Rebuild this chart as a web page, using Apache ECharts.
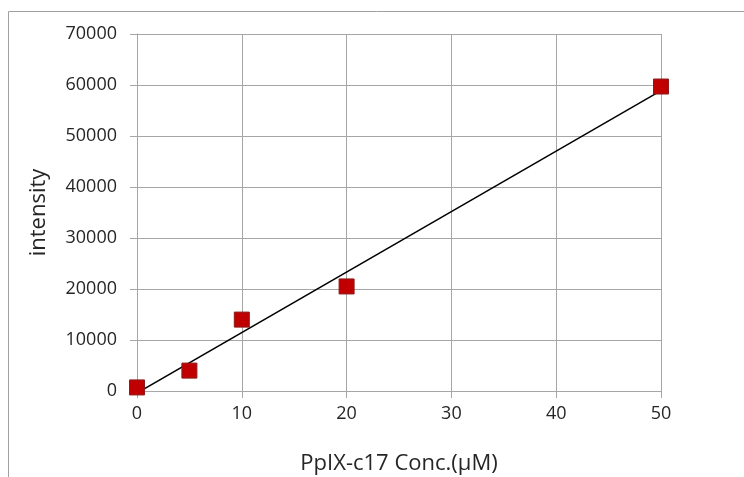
<!DOCTYPE html>
<html>
<head>
<meta charset="utf-8">
<script src="https://cdn.jsdelivr.net/npm/echarts@6/dist/echarts.min.js"></script>
<style>html,body{margin:0;padding:0;background:#fff;}#c{width:744px;height:477px;}</style>
</head>
<body>
<div id="c"></div>
<script>
const concentrations = [0, 5, 10, 20, 50];
const intensities = [700, 4000, 14000, 20500, 59700];
const trendX = [0, 50];
const trendY = [-400, 58900];
const xTicks = [0, 10, 20, 30, 40, 50];
const yTicks = [0, 10000, 20000, 30000, 40000, 50000, 60000, 70000];
const xTitle = 'PpIX-c17 Conc.(μM)';
const yTitle = 'intensity';

const points = concentrations.map((x, i) => [x, intensities[i]]);
const trend = trendX.map((x, i) => [x, trendY[i]]);
const font = '"Open Sans", "Liberation Sans", sans-serif';
const gridColor = '#a6a6a6';

const chart = echarts.init(document.getElementById('c'), null, {renderer: 'canvas'});
chart.setOption({
  animation: false,
  backgroundColor: '#fff',
  grid: {left: 137, right: 83, top: 34, bottom: 86, containLabel: false, outerBoundsMode: 'none'},
  graphic: [{
    type: 'rect', silent: true, z: -10,
    shape: {x: 8.5, y: 11.5, width: 800, height: 500},
    style: {fill: 'none', stroke: '#a0a0a0', lineWidth: 1}
  }],
  xAxis: {
    type: 'value', min: xTicks[0], max: xTicks[xTicks.length - 1], interval: 10,
    name: xTitle, nameLocation: 'middle', nameGap: 62,
    nameTextStyle: {fontFamily: font, fontSize: 22, color: '#262626'},
    axisLine: {show: true, lineStyle: {color: gridColor, width: 1}},
    axisTick: {show: true, length: 7, lineStyle: {color: gridColor}},
    axisLabel: {fontFamily: font, fontSize: 18, color: '#262626', margin: 14},
    splitLine: {show: true, lineStyle: {color: gridColor, width: 1}}
  },
  yAxis: {
    type: 'value', min: yTicks[0], max: yTicks[yTicks.length - 1], interval: 10000,
    name: yTitle, nameLocation: 'middle', nameGap: 87, nameRotate: 90,
    nameTextStyle: {fontFamily: font, fontSize: 22, color: '#262626'},
    axisLine: {show: true, lineStyle: {color: gridColor, width: 1}},
    axisTick: {show: true, length: 7, lineStyle: {color: gridColor}},
    axisLabel: {fontFamily: font, fontSize: 18, color: '#262626', margin: 20,
      formatter: v => String(v)},
    splitLine: {show: true, lineStyle: {color: gridColor, width: 1}}
  },
  series: [
    {
      type: 'line', data: trend, showSymbol: false, symbol: 'none', z: 2,
      lineStyle: {color: '#000', width: 1.5}, silent: true
    },
    {
      type: 'scatter', data: points, symbol: 'rect', symbolSize: 15, z: 3,
      itemStyle: {color: '#c00000', borderColor: '#8c1a1a', borderWidth: 1, opacity: 1}
    }
  ]
});
</script>
</body>
</html>
